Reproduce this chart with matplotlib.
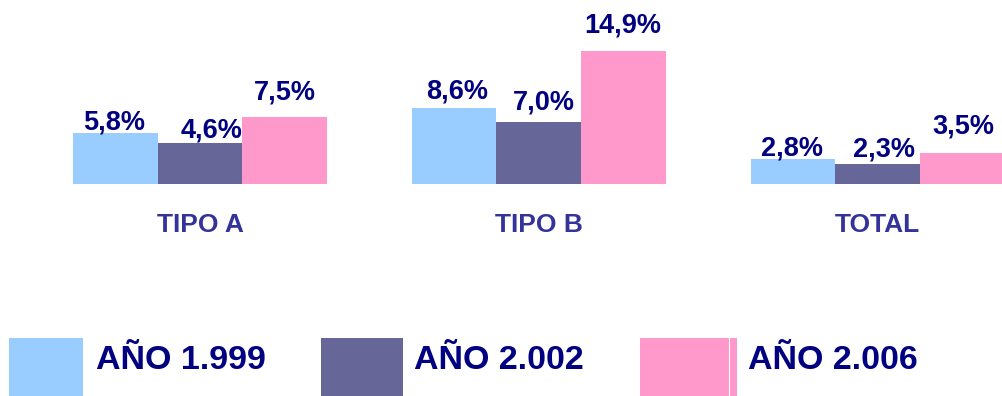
import matplotlib
matplotlib.use("Agg")
import matplotlib.pyplot as plt
from matplotlib.patches import Rectangle
from matplotlib.transforms import blended_transform_factory
import numpy as np

plt.rcParams["font.family"] = ["Liberation Sans", "DejaVu Sans"]

# Data
categories = ["TIPO A", "TIPO B", "TOTAL"]
series_names = ["AÑO 1.999", "AÑO 2.002", "AÑO 2.006"]
anio_1999 = [5.8, 8.6, 2.8]
anio_2002 = [4.6, 7.0, 2.3]
anio_2006 = [7.5, 14.9, 3.5]
series_values = [anio_1999, anio_2002, anio_2006]

colors = ["#99CCFF", "#666699", "#FF99CC"]
label_color = "#000080"
cat_color = "#333399"

# Hand-placed label nudges (pixels): per series, per category
label_dx = [[-1, 3, -1], [12, 5, 6], [0, -1, 1]]
label_dy = [[3, 9, 4], [6, 12, 7], [18, 19, 20]]

W, H = 1002, 396
fig = plt.figure(figsize=(W / 100, H / 100), dpi=100)

base_px = 184.3          # baseline of bars, pixels from top
unit_px = 84.7           # width of one bar in pixels
px_per_pct = 8.92
group_step = 4.0
first_center_px = 200

ax = fig.add_axes([0, (H - base_px) / H, 1, base_px / H])
ax.set_xlim(-first_center_px / unit_px, (W - first_center_px) / unit_px)
ax.set_ylim(0, base_px / px_per_pct)
ax.axis("off")

x = np.arange(len(categories)) * group_step
for i, (vals, col) in enumerate(zip(series_values, colors)):
    xs = x + (i - 1)
    ax.bar(xs, vals, width=1.0, color=col, edgecolor="none", linewidth=0)
    for j, (bx, v) in enumerate(zip(xs, vals)):
        ax.annotate(f"{v:.1f}%".replace(".", ","), xy=(bx, v),
                    xytext=(label_dx[i][j], label_dy[i][j]),
                    textcoords="offset pixels", ha="center", va="baseline",
                    fontsize=19.5, fontweight="bold", color=label_color,
                    annotation_clip=False)

# Category names below the bars
trans = blended_transform_factory(ax.transData, fig.transFigure)
for cx, name in zip(x, categories):
    ax.text(cx, (H - 232) / H, name, transform=trans, ha="center",
            va="baseline", fontsize=19, fontweight="bold", color=cat_color)

# Legend drawn along the bottom
legend_boxes = [(9, 83), (321, 403), (640, 737)]
legend_text_x = [96, 414, 748]
box_top, box_bottom = 338, 396
for (x0, x1), tx, name, col in zip(legend_boxes, legend_text_x, series_names, colors):
    fig.add_artist(Rectangle((x0 / W, (H - box_bottom) / H), (x1 - x0) / W,
                             (box_bottom - box_top) / H, transform=fig.transFigure,
                             facecolor=col, edgecolor="none"))
    fig.text(tx / W, (H - 369) / H, name, ha="left", va="baseline",
             fontsize=24.5, fontweight="bold", color=label_color)

# thin light seam inside the last legend swatch
fig.add_artist(plt.Line2D([728.5 / W, 728.5 / W], [0, (H - box_top) / H],
                          transform=fig.transFigure, color="white", linewidth=0.8))

fig.savefig("out.png", dpi=100, facecolor="white")
